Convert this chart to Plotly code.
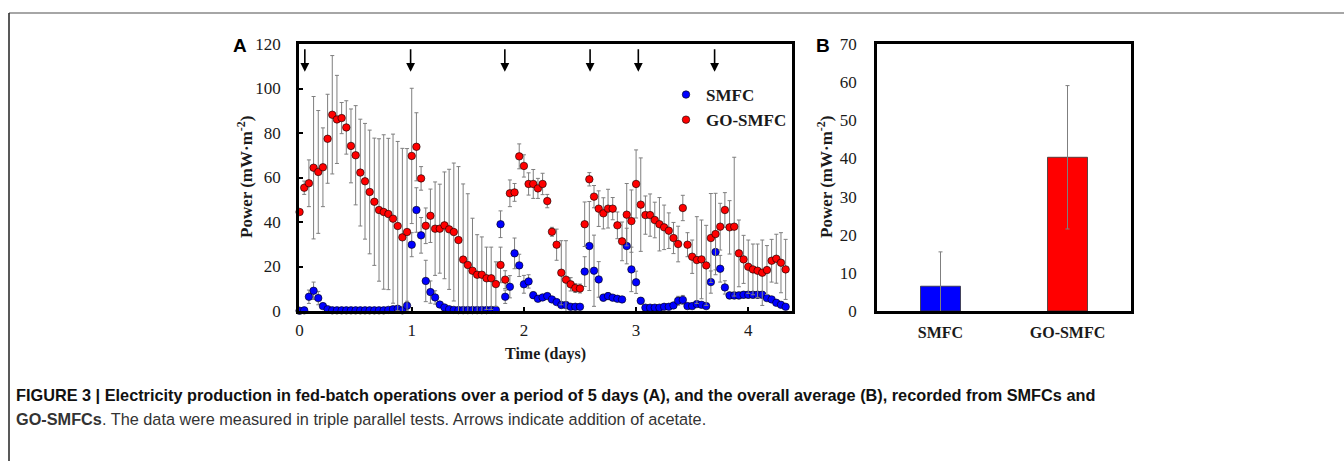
import plotly.graph_objects as go

# ---------------- data ----------------
time_h = [0, 1, 2, 3, 4, 5, 6, 7, 8, 9, 10, 11, 12, 13, 14, 15, 16, 17, 18, 19,
          20, 21, 22, 23, 24, 25, 26, 27, 28, 29, 30, 31, 32, 33, 34, 35, 36, 37, 38, 39,
          40, 41, 42, 43, 44, 45, 46, 47, 48, 49, 50, 51, 52, 53, 54, 55, 56, 57, 58, 59,
          60, 61, 62, 63, 64, 65, 66, 67, 68, 69, 70, 71, 72, 73, 74, 75, 76, 77, 78, 79,
          80, 81, 82, 83, 84, 85, 86, 87, 88, 89, 90, 91, 92, 93, 94, 95, 96, 97, 98, 99,
          100, 101, 102, 103, 104]

smfc = [0.1, 0.3, 6.4, 9.1, 5.8, 2.2, 0.8, 0.3, 0.3, 0.3,
        0.3, 0.3, 0.3, 0.3, 0.3, 0.3, 0.3, 0.3, 0.3, 0.5,
        0.8, 1.0, 0.3, 2.4, 29.8, 45.4, 34.0, 13.5, 8.5, 6.1,
        2.9, 1.6, 0.8, 0.5, 0.4, 0.4, 0.4, 0.4, 0.4, 0.4,
        0.4, 0.5, 0.5, 39.0, 6.4, 10.9, 25.9, 20.5, 12.0, 13.3,
        7.1, 5.5, 6.1, 6.7, 5.2, 4.0, 2.7, 2.7, 1.9, 1.9,
        1.9, 17.7, 29.2, 18.1, 14.2, 6.0, 6.7, 6.0, 5.5, 5.2,
        29.2, 18.7, 12.9, 4.6, 1.5, 1.5, 1.5, 1.5, 1.9, 1.9,
        2.5, 4.6, 5.0, 2.2, 2.2, 3.1, 2.8, 2.2, 13.0, 26.5,
        19.0, 10.6, 7.0, 7.0, 7.0, 7.3, 7.3, 7.3, 7.3, 7.3,
        5.8, 5.2, 3.7, 2.8, 1.9]

smfc_err = [0.5, 0.5, 3.0, 3.9, 3.0, 1.0, 0.5, 0.5, 0.5, 0.5,
            0.5, 0.5, 0.5, 0.5, 0.5, 0.5, 0.5, 0.5, 0.5, 0.5,
            0.8, 0.8, 0.5, 2.0, 5.4, 10.0, 8.0, 9.3, 5.0, 3.0,
            1.0, 0.8, 0.5, 0.5, 0.5, 0.5, 0.5, 0.5, 0.5, 0.5,
            0.5, 0.5, 0.5, 6.0, 3.0, 5.0, 6.9, 5.0, 4.0, 3.0,
            1.5, 1.0, 1.0, 1.0, 1.0, 1.0, 0.8, 0.8, 0.8, 0.8,
            0.8, 6.7, 20.0, 16.0, 8.0, 1.5, 1.5, 1.0, 1.0, 1.0,
            8.0, 10.0, 5.0, 1.5, 0.8, 0.8, 0.8, 0.8, 0.8, 0.8,
            1.0, 2.0, 2.0, 1.0, 1.0, 1.0, 1.0, 1.0, 5.0, 8.0,
            6.0, 3.0, 1.5, 1.5, 1.5, 1.5, 1.5, 1.5, 1.5, 1.5,
            1.0, 1.0, 1.0, 1.0, 0.8]

go_smfc = [44.5, 55.4, 57.4, 64.4, 62.5, 64.6, 77.4, 88.2, 86.1, 86.7,
           82.5, 74.2, 70.0, 62.2, 58.3, 53.5, 49.1, 45.4, 44.5, 43.6,
           41.5, 38.2, 33.1, 35.5, 69.7, 73.8, 59.6, 38.3, 42.8, 37.0,
           37.0, 38.5, 36.7, 35.5, 31.9, 23.1, 20.7, 18.1, 16.3, 16.3,
           14.7, 14.7, 12.1, 20.7, 14.1, 52.9, 53.3, 69.5, 65.2, 57.1,
           57.1, 55.1, 57.1, 49.4, 35.6, 29.8, 17.2, 14.1, 12.0, 10.3,
           10.1, 39.0, 59.2, 51.4, 46.0, 43.9, 46.0, 46.0, 38.5, 31.3,
           43.3, 40.4, 57.1, 47.8, 43.1, 43.1, 40.9, 39.0, 37.6, 36.1,
           32.8, 30.1, 46.3, 29.8, 24.4, 22.9, 23.2, 20.5, 32.8, 34.6,
           37.9, 45.4, 37.6, 37.9, 25.9, 23.2, 19.9, 18.7, 18.1, 17.2,
           18.4, 22.6, 23.5, 21.7, 18.7]

go_smfc_err = [1.0, 3.0, 10.5, 32.0, 27.6, 17.7, 20.0, 26.6, 19.8, 7.0,
               12.0, 16.6, 22.3, 24.0, 26.0, 27.8, 28.6, 32.0, 34.7, 34.0,
               38.0, 38.0, 40.0, 37.5, 30.4, 15.3, 5.3, 8.0, 12.0, 21.0,
               20.0, 24.0, 27.0, 31.0, 33.0, 34.0, 32.0, 23.6, 18.0, 17.0,
               14.0, 14.0, 10.0, 8.0, 4.0, 6.0, 4.0, 5.6, 5.0, 5.0,
               6.5, 4.5, 4.8, 3.0, 2.0, 7.0, 14.4, 17.5, 3.0, 2.0,
               2.0, 10.0, 3.0, 5.0, 8.0, 7.0, 8.7, 5.0, 6.0, 8.7,
               14.0, 14.0, 15.3, 21.0, 8.6, 9.5, 8.0, 12.0, 10.0, 8.0,
               7.0, 8.0, 5.7, 5.4, 7.5, 19.5, 17.7, 18.0, 20.0, 18.3,
               10.5, 7.8, 12.0, 31.2, 15.0, 10.8, 12.0, 11.4, 12.0, 14.7,
               11.0, 9.6, 11.0, 13.5, 13.5]

acetate_days = [0.047, 0.99, 1.83, 2.59, 3.02, 3.70]

avg_categories = ["SMFC", "GO-SMFC"]
avg_values = [6.5, 40.3]
avg_errors = [9.0, 18.8]

time_days = [h / 24.0 for h in time_h]

# ---------------- figure ----------------
W, H = 1344, 461
def px(x):
    return x / W
def py(y):
    return 1 - y / H

SERIF = "Liberation Serif, Times New Roman, serif"
BLUE = "#0000ff"
RED = "#ff0000"
ERRC = "#7f7f7f"
TXT = "#1a1a1a"

fig = go.Figure()

fig.add_trace(go.Scatter(
    x=time_days, y=smfc, mode="markers", name="SMFC",
    marker=dict(color=BLUE, size=7.5, line=dict(color="black", width=0.6)),
    error_y=dict(type="data", array=smfc_err, visible=True, color=ERRC, thickness=1, width=2),
    cliponaxis=False, xaxis="x", yaxis="y"))
fig.add_trace(go.Scatter(
    x=time_days, y=go_smfc, mode="markers", name="GO-SMFC",
    marker=dict(color=RED, size=7.5, line=dict(color="black", width=0.6)),
    error_y=dict(type="data", array=go_smfc_err, visible=True, color=ERRC, thickness=1, width=2),
    cliponaxis=False, xaxis="x", yaxis="y"))

fig.add_trace(go.Bar(
    x=avg_categories, y=avg_values, width=0.315,
    marker=dict(color=[BLUE, RED], line=dict(color="#333333", width=0.8)),
    error_y=dict(type="data", array=avg_errors, visible=True, color=ERRC, thickness=1, width=2),
    showlegend=False, xaxis="x2", yaxis="y2"))

line_common = dict(showline=True, linecolor="black", linewidth=2.5, mirror=True,
                   showgrid=False, zeroline=False)
tickfont = dict(family=SERIF, size=17, color=TXT)

fig.update_layout(
    width=W, height=H,
    margin=dict(l=0, r=0, t=0, b=0, autoexpand=False),
    paper_bgcolor="white", plot_bgcolor="white",
    xaxis=dict(domain=[px(299), px(792)], range=[-0.005, 4.39], dtick=1, tick0=0,
               anchor="y", ticks="inside", ticklen=4, tickcolor="black", tickwidth=1.5,
               tickfont=tickfont, ticklabelstandoff=2, **line_common),
    yaxis=dict(domain=[py(311), py(44)], range=[0, 120], dtick=20, tick0=0,
               anchor="x", ticks="inside", ticklen=4, tickcolor="black", tickwidth=1.5,
               tickfont=tickfont, ticklabelstandoff=12, **line_common),
    xaxis2=dict(domain=[px(877), px(1131)], range=[-0.5, 1.5], anchor="y2", ticks="",
                tickfont=dict(family=SERIF, size=16, color=TXT, weight="bold"),
                ticklabelstandoff=5, **line_common),
    yaxis2=dict(domain=[py(311), py(44)], range=[0, 70], dtick=10, tick0=0,
                anchor="x2", ticks="", tickfont=tickfont, ticklabelstandoff=14, **line_common),
    legend=dict(x=px(666), y=py(77), xanchor="left", yanchor="top",
                font=dict(family=SERIF, size=17, color=TXT, weight="bold"),
                bgcolor="rgba(0,0,0,0)", borderwidth=0, itemwidth=30,
                tracegroupgap=0),
    showlegend=True,
)

ann = []
# acetate addition arrows
for d in acetate_days:
    ann.append(dict(x=d, y=107.5, xref="x", yref="y", ax=0, ay=-24, axref="pixel", ayref="pixel",
                    showarrow=True, arrowhead=2, arrowsize=1.1, arrowwidth=1.6,
                    arrowcolor="black", text=""))

def label(x, y, text, font, angle=0, xanchor="center"):
    return dict(x=px(x), y=py(y), xref="paper", yref="paper", text=text, textangle=angle,
                xanchor=xanchor, yanchor="middle", showarrow=False, font=font)

LETTER = dict(family="Liberation Sans, Arial, sans-serif", size=19, color="black")
ann.append(label(240, 45, "<b>A</b>", LETTER))
ann.append(label(823, 45, "<b>B</b>", LETTER))
ytitle = "<b>Power (mW·m<sup>-2</sup>)</b>"
ann.append(label(245, 177, ytitle, dict(family=SERIF, size=17, color=TXT), angle=-90))
ann.append(label(825, 177, ytitle, dict(family=SERIF, size=17, color=TXT), angle=-90))
ann.append(label(545, 354, "<b>Time (days)</b>", dict(family=SERIF, size=16, color=TXT)))
# caption
CAP = "Liberation Sans, Arial, sans-serif"
ann.append(label(14, 395,
                 "<b>FIGURE 3 | Electricity production in fed-batch operations over a period of 5 days (A), "
                 "and the overall average (B), recorded from SMFCs and</b>",
                 dict(family=CAP, size=16.3, color="#111111"), xanchor="left"))
ann.append(label(14, 419,
                 "<b>GO-SMFCs</b>. The data were measured in triple parallel tests. Arrows indicate addition of acetate.",
                 dict(family=CAP, size=16.3, color="#333333"), xanchor="left"))
fig.update_layout(annotations=ann)

# outer frame lines of the figure box
fig.add_shape(type="line", xref="paper", yref="paper", x0=px(9), x1=1, y0=py(13), y1=py(13),
              line=dict(color="#888888", width=1.5))
fig.add_shape(type="line", xref="paper", yref="paper", x0=px(9), x1=px(9), y0=py(13), y1=0,
              line=dict(color="#222222", width=1.5))

fig.write_html("out.html", config={"displayModeBar": False},
               post_script="document.body.style.margin='0';document.body.style.overflow='hidden';")
